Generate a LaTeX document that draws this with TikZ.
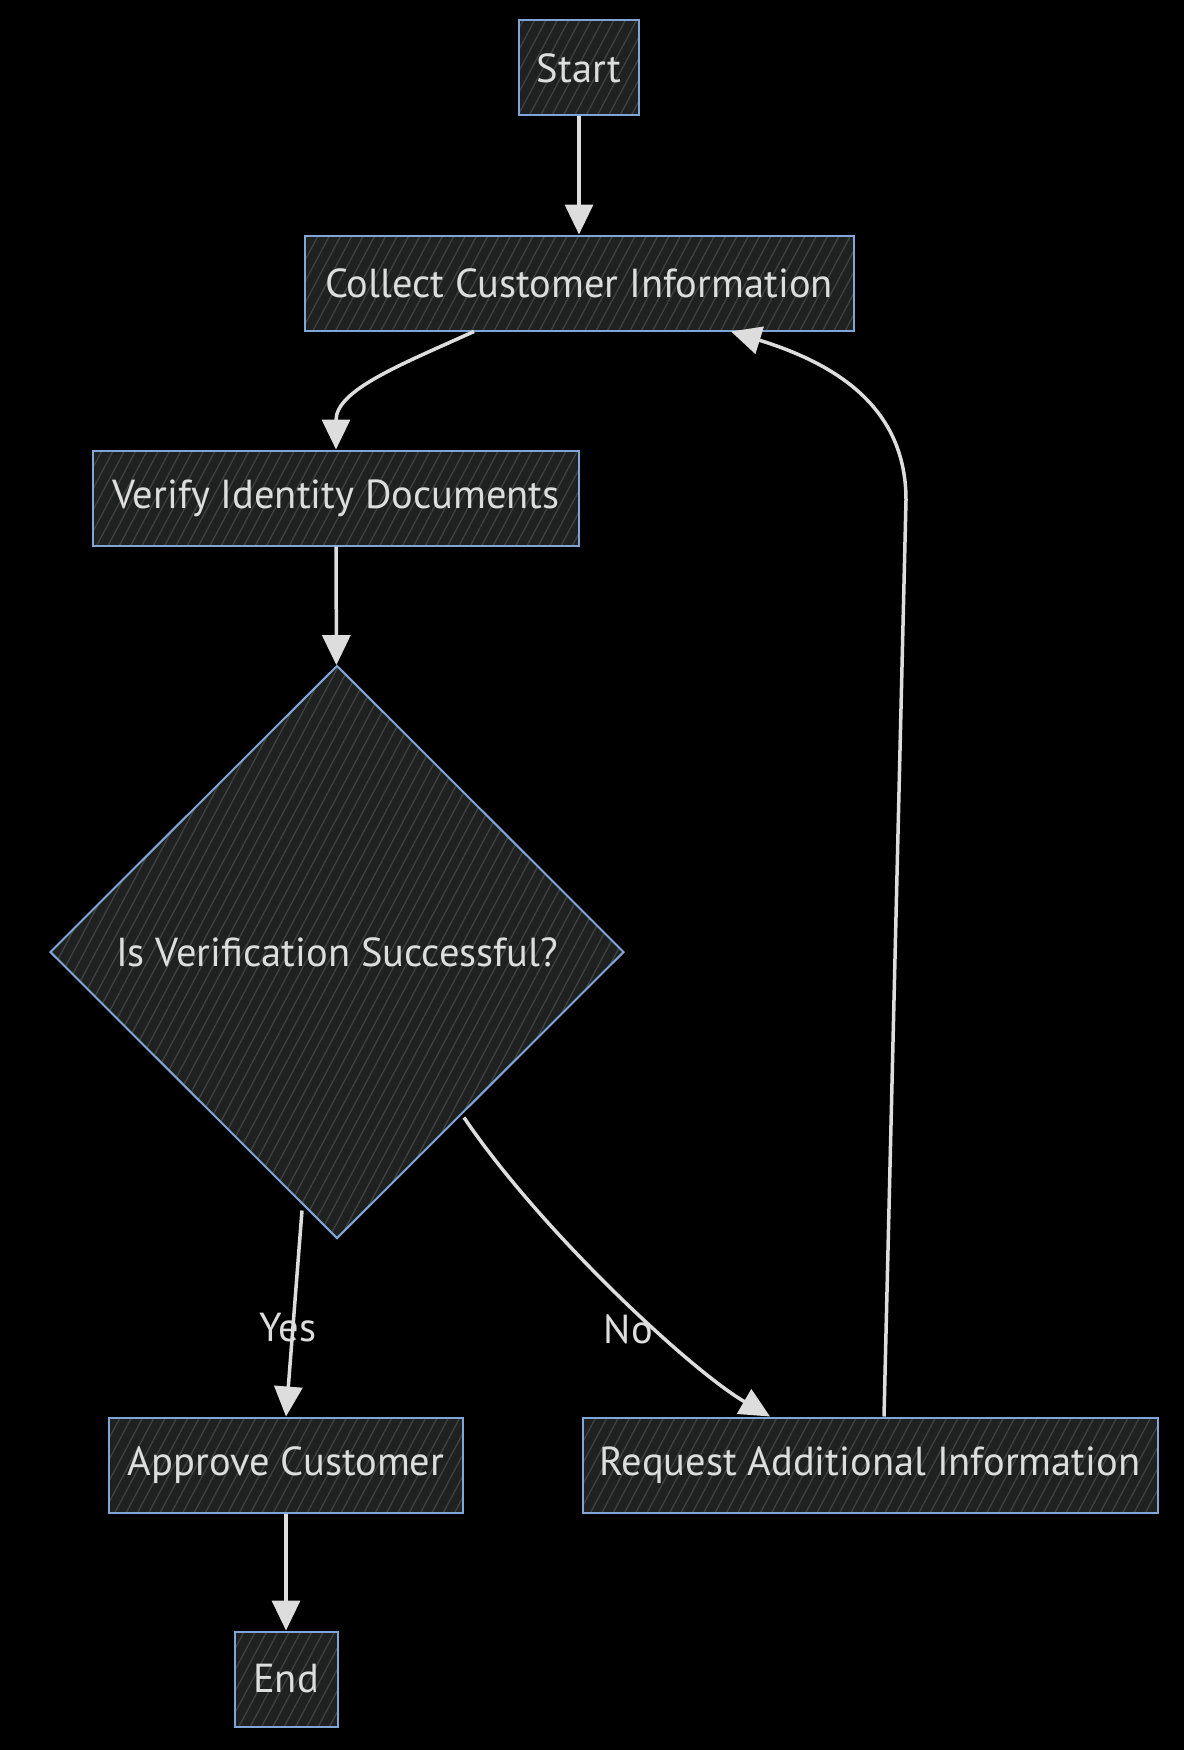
\documentclass[tikz,border=0pt]{standalone}
\usepackage{fontspec}
\setmainfont{PT Sans}
\usetikzlibrary{shapes.geometric,arrows.meta,patterns.meta}
\definecolor{nodefill}{HTML}{1F2020}
\definecolor{hatch}{HTML}{404141}
\definecolor{nodeborder}{HTML}{7FA6D6}
\definecolor{linkcol}{HTML}{DDDDDD}
\begin{document}
\begin{tikzpicture}[x=1pt,y=-1pt,every node/.style={text=linkcol,font=\fontsize{40.5}{44}\selectfont},box/.style={draw=nodeborder,line width=2pt,preaction={fill=nodefill},pattern={Lines[angle=62,distance=10pt,line width=1.3pt]},pattern color=hatch,inner sep=0pt,minimum height=95pt},link/.style={draw=linkcol,line width=3.5pt,-{Triangle[length=30pt,width=28pt]}},lbl/.style={inner sep=0pt}]
\fill[black] (0,0) rectangle (1184,1750);
\node[box,minimum width=120pt] (start) at (579,68) {Start};
\node[box,minimum width=549pt] (collect) at (579,283) {Collect Customer Information};
\node[box,minimum width=486pt] (verify) at (336,498) {Verify Identity Documents};
\node[box,diamond,minimum width=574pt,minimum height=573pt] (check) at (337,952) {Is Verification Successful?};
\node[box,minimum width=354pt] (approve) at (286,1465) {Approve Customer};
\node[box,minimum width=575pt] (request) at (870,1465) {Request Additional Information};
\node[box,minimum width=103pt] (end) at (286,1679) {End};
\coordinate (turn) at (906,500);
\draw[link] (start) -- (collect);
\draw[link] ([xshift=-105pt]collect.south) .. controls (400,365) and (336,390) .. (verify.north);
\draw[link] (verify) -- (check);
\draw[link] ([xshift=-35pt,yshift=29pt]check.south) -- node[lbl,pos=0.57,xshift=-5pt]{Yes} (approve.north);
\draw[link] ([xshift=127pt,yshift=122pt]check.south) .. controls (540,1230) and (690,1370) .. node[lbl,pos=0.62,xshift=-28pt]{No} ([xshift=-100pt]request.north);
\draw[link] ([xshift=14pt]request.north) -- (turn) .. controls (906,410) and (840,365) .. ([xshift=152pt]collect.south);
\draw[link] (approve) -- (end);
\end{tikzpicture}
\end{document}
